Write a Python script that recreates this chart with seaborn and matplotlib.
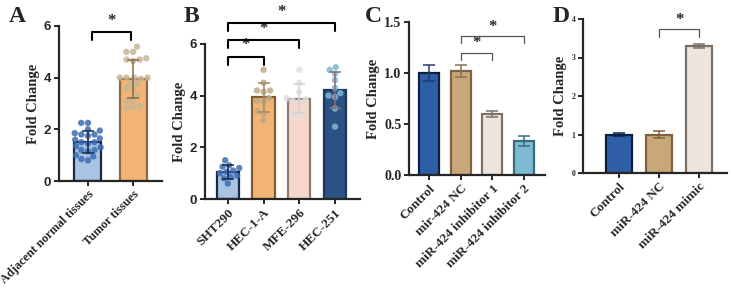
import numpy as np
import pandas as pd
import matplotlib
matplotlib.use("Agg")
import matplotlib.pyplot as plt
import seaborn as sns

sns.set_style("ticks")
plt.rcParams['font.family'] = ['Liberation Serif', 'DejaVu Serif']
plt.rcParams['font.weight'] = 'bold'

# ---- panel A data
a_groups = ["Adjacent normal tissues", "Tumor tissues"]
a_adjacent = [2.25, 2.25, 2.0, 1.95, 1.85, 1.8, 1.8, 1.75, 1.65, 1.6, 1.5,
              1.5, 1.45, 1.35, 1.3, 1.2, 1.2, 1.15, 1.0, 0.95, 0.85, 0.8]
a_tumor = [5.2, 5.0, 5.0, 4.75, 4.7, 4.7, 4.65, 4.0, 4.0, 4.0, 3.95,
           4.0, 3.8, 3.75, 3.6, 3.55, 3.3, 3.1, 3.1, 2.85, 2.85, 2.9]

# ---- panel B data
b_groups = ["SHT290", "HEC-1-A", "MFE-296", "HEC-251"]
b_sht290 = [1.5, 1.3, 1.25, 1.2, 1.1, 1.05, 1.0, 0.9, 0.85, 0.8, 0.6]
b_hec1a = [5.0, 4.5, 4.2, 4.2, 4.15, 3.9, 3.8, 3.75, 3.4, 3.3, 3.05]
b_mfe296 = [5.0, 4.5, 4.15, 3.9, 3.85, 3.8, 3.75, 3.4, 3.3, 3.2]
b_hec251 = [5.1, 5.0, 4.85, 4.6, 4.3, 4.1, 4.0, 3.95, 3.5, 2.8]

# ---- panel C data
c_groups = ["Control", "mir-424 NC", "miR-424 inhibitor 1", "miR-424 inhibitor 2"]
c_means = [1.0, 1.02, 0.60, 0.33]
c_sds = [0.08, 0.06, 0.03, 0.05]

# ---- panel D data
d_groups = ["Control", "miR-424 NC", "miR-424 mimic"]
d_means = [1.0, 1.0, 3.3]
d_sds = [0.05, 0.1, 0.05]

W, H = 732, 291
fig = plt.figure(figsize=(W / 100, H / 100), dpi=100)


def axes_px(left, right, y0, ytop):
    return fig.add_axes([left / W, (H - y0) / H, (right - left) / W, (y0 - ytop) / H])


def style(ax, ylim, ticks, ticklabels, tickfont, ticksize, xlim, xsize=9.5):
    sns.despine(ax=ax)
    for s in ['left', 'bottom']:
        ax.spines[s].set_linewidth(1.6)
    ax.set_ylim(*ylim)
    ax.set_xlim(*xlim)
    ax.set_yticks(ticks)
    ax.set_yticklabels(ticklabels, fontfamily=tickfont, fontweight='bold',
                       fontsize=ticksize)
    ax.tick_params(axis='both', width=1.4, length=3.5, direction='out', pad=2)
    ax.set_xlabel("")
    ax.set_ylabel("Fold Change", fontsize=10.5, fontweight='bold', labelpad=3)
    for t in ax.get_xticklabels():
        t.set_rotation(45)
        t.set_ha('right')
        t.set_rotation_mode('anchor')
        t.set_fontsize(xsize)
        t.set_fontweight('bold')


def bars(ax, groups, means, sds, fills, edges, width, ecols=None):
    df = pd.DataFrame({'group': groups, 'value': means})
    sns.barplot(data=df, x='group', y='value', hue='group', palette=fills,
                width=width, errorbar=None, legend=False, ax=ax,
                linewidth=1.6, saturation=1, zorder=2)
    for p, ec in zip(ax.patches, edges):
        p.set_edgecolor(ec)
    ecols = ecols or edges
    for i, (m, s) in enumerate(zip(means, sds)):
        ax.errorbar(i, m, yerr=s, color=ecols[i], capsize=4, lw=1.1,
                    capthick=1.1, zorder=6)


def dots(ax, groups, values, colors):
    df = pd.DataFrame({'group': np.repeat(groups, [len(v) for v in values]),
                       'value': np.concatenate(values)})
    sns.swarmplot(data=df, x='group', y='value', hue='group', palette=colors,
                  size=4.6, alpha=0.85, legend=False, ax=ax, zorder=4,
                  order=groups, hue_order=groups, warn_thresh=1)


def bracket(ax, x1, x2, y, h, color, lw, star_y):
    ax.plot([x1, x1, x2, x2], [y - h, y, y, y - h], color=color, lw=lw,
            clip_on=False, zorder=7)
    ax.text((x1 + x2) / 2, star_y, "*", ha='center', va='center',
            fontsize=12, fontweight='bold', clip_on=False)


# ---- A
axA = axes_px(59, 162, 181, 26)
a_vals = [a_adjacent, a_tumor]
a_means = [np.mean(v) for v in a_vals]
a_sds = [np.std(v, ddof=1) for v in a_vals]
bars(axA, a_groups, a_means, a_sds, ["#a9c3e3", "#f2b474"],
     ["#17284d", "#8a6a3e"], 0.6)
dots(axA, a_groups, a_vals, ["#3d6db3", "#c6b596"])
style(axA, (0, 6), [0, 2, 4, 6], ["0", "2", "4", "6"], 'Liberation Sans', 9.5,
      (-0.64, 1.64), xsize=8.8)
bracket(axA, 0.1, 0.95, 5.77, 0.3, 'black', 1.5, 6.2)

# ---- B
axB = axes_px(205, 360, 199, 44)
b_vals = [b_sht290, b_hec1a, b_mfe296, b_hec251]
b_means = [np.mean(v) for v in b_vals]
b_sds = [np.std(v, ddof=1) for v in b_vals]
bars(axB, b_groups, b_means, b_sds, ["#a9c3e3", "#f2b474", "#f5d6ca", "#2b5283"],
     ["#17284d", "#7d5c30", "#8c7d74", "#1b3960"], 0.62,
     ecols=["#17284d", "#a08a68", "#d8d0cc", "#8a6f70"])
dots(axB, b_groups, b_vals, ["#3d6db3", "#bfa881", "#e2dedb", "#7fb6d6"])
style(axB, (0, 6), [0, 2, 4, 6], ["0", "2", "4", "6"], 'Liberation Sans', 9.5, (-0.64, 3.7))
bracket(axB, 0, 1, 5.5, 0.3, 'black', 1.5, 5.95)
bracket(axB, 0, 2, 6.15, 0.3, 'black', 1.5, 6.6)
bracket(axB, 0, 3, 6.8, 0.3, 'black', 1.5, 7.25)

# ---- C
axC = axes_px(409, 545, 175, 22)
bars(axC, c_groups, c_means, c_sds, ["#2f5ea8", "#c8a878", "#ede5de", "#7bbad2"],
     ["#0f1f40", "#7f6040", "#7a7068", "#3b6a7a"], 0.63,
     ecols=["#203a70", "#8a7050", "#7a7068", "#3b6a7a"])
style(axC, (0, 1.5), [0, 0.5, 1.0, 1.5], ["0.0", "0.5", "1.0", "1.5"],
      'Liberation Serif', 10, (-0.63, 3.66))
bracket(axC, 1, 2, 1.2, 0.07, '#555555', 0.9, 1.29)
bracket(axC, 1, 3, 1.36, 0.07, '#555555', 0.9, 1.45)

# ---- D
axD = axes_px(583, 727, 173, 19)
bars(axD, d_groups, d_means, d_sds, ["#2f5ea8", "#c8a878", "#ede5de"],
     ["#0f1f40", "#7f6040", "#7a7068"], 0.63)
style(axD, (0, 4), [0, 1, 2, 3, 4], ["0", "1", "2", "3", "4"],
      'Liberation Serif', 5.5, (-0.9, 2.7))
bracket(axD, 1, 2, 3.74, 0.2, '#555555', 0.9, 3.97)

for letter, x, y in [("A", 17, 17), ("B", 191, 17), ("C", 373, 17), ("D", 561, 17)]:
    fig.text(x / W, 1 - y / H, letter, fontsize=17, fontweight='bold',
             ha='center', va='center')

fig.savefig("out.png", dpi=100)
